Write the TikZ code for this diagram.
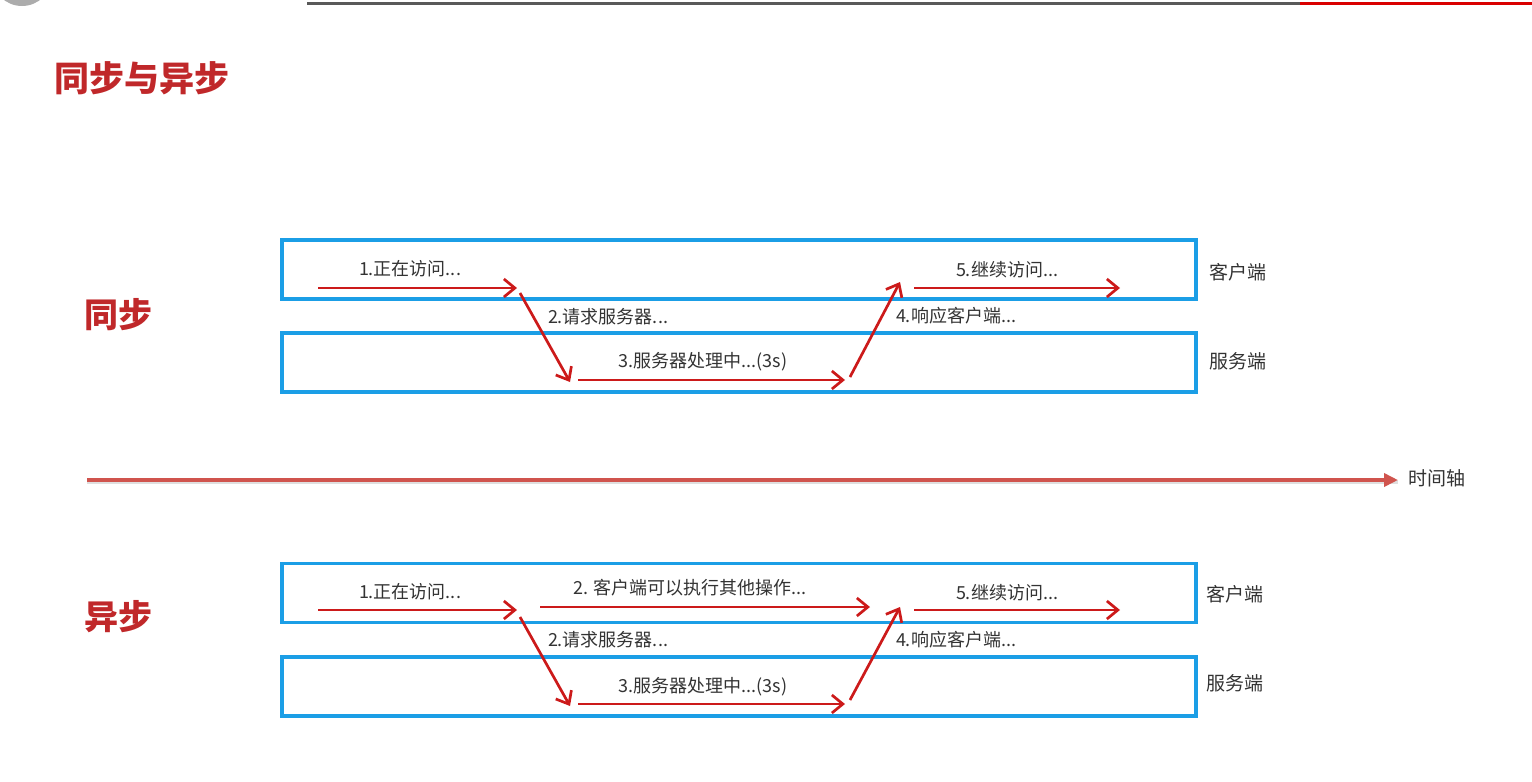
\documentclass[tikz,border=0pt]{standalone}
\usepackage{fontspec}
\setmainfont{Noto Sans CJK SC}
\usetikzlibrary{arrows.meta}

\definecolor{laneblue}{RGB}{27,158,230}
\definecolor{flowred}{RGB}{204,26,26}
\definecolor{titlered}{RGB}{192,40,42}
\definecolor{axisred}{RGB}{208,84,78}
\definecolor{txtgray}{RGB}{51,51,51}

\begin{document}
\begin{tikzpicture}[x=1pt,y=-1pt,
  lane/.style={draw=laneblue,line width=3.5pt,minimum width=914pt,minimum height=59pt,inner sep=0pt},
  flow/.style={draw=flowred,line width=2.7pt,-{Straight Barb[length=11pt,width=18pt]}},
  lbl/.style={text=txtgray,font=\fontsize{18}{21}\selectfont,inner sep=0pt},
  side/.style={text=txtgray,font=\fontsize{19}{22}\selectfont,inner sep=0pt},
  head/.style={text=titlered,font=\fontsize{34}{40}\selectfont\bfseries,inner sep=0pt}]

  \useasboundingbox (0,0) rectangle (1532,782);

  % top bar of the slide
  \fill[gray!65] (22,-24) circle (30pt);
  \draw[gray!70!black,line width=3pt] (307,3) -- (1300,3);
  \draw[red!85!black,line width=3pt] (1300,3) -- (1532,3);

  \node[head,font=\fontsize{35}{41}\selectfont\bfseries] (title) at (142,78) {同步与异步};

  % time axis
  \coordinate (t0) at (87,480);
  \coordinate (t1) at (1398,480);
  \draw[gray!25,line width=4pt] ([yshift=-2pt]t0) -- ([yshift=-2pt]t1);
  \draw[axisred,line width=4pt,-{Triangle[length=14pt,width=13pt]}] (t0) -- (t1);
  \node[side,anchor=west] (taxis) at (1408,478) {时间轴};

  % synchronous
  \node[head] (tsync) at (118,315) {同步};
  \node[lane] (cli1) at (739,269.5) {};
  \node[lane] (srv1) at (739,362.5) {};
  \node[side] (c1) at (1238,272) {客户端};
  \node[side] (s1) at (1238,361) {服务端};

  \coordinate (p1a) at (318,288);
  \coordinate (p1b) at (517,288);
  \coordinate (p2a) at (520,293);
  \coordinate (p2b) at (570,382);
  \coordinate (p3a) at (578,380);
  \coordinate (p3b) at (845,380);
  \coordinate (p4a) at (850,377);
  \coordinate (p4b) at (900,282);
  \coordinate (p5a) at (914,288);
  \coordinate (p5b) at (1120,288);

  \draw[flow] (p1a) -- (p1b);
  \draw[flow] (p2a) -- (p2b);
  \draw[flow] (p3a) -- (p3b);
  \draw[flow] (p4a) -- (p4b);
  \draw[flow] (p5a) -- (p5b);

  \node[lbl] (l1) at (410,269) {1.正在访问...};
  \node[lbl] (l2) at (608,317) {2.请求服务器...};
  \node[lbl] (l3) at (703,362) {3.服务器处理中...(3s)};
  \node[lbl] (l4) at (956,316) {4.响应客户端...};
  \node[lbl] (l5) at (1007,270) {5.继续访问...};

  % asynchronous
  \node[head] (tasync) at (118,617) {异步};
  \node[lane] (cli2) at (739,593) {};
  \node[lane] (srv2) at (739,686.5) {};
  \node[side] (c2) at (1235,594) {客户端};
  \node[side] (s2) at (1235,683) {服务端};

  \coordinate (q1a) at (318,610);
  \coordinate (q1b) at (517,610);
  \coordinate (qca) at (540,607);
  \coordinate (qcb) at (870,607);
  \coordinate (q2a) at (520,617);
  \coordinate (q2b) at (570,706);
  \coordinate (q3a) at (578,704);
  \coordinate (q3b) at (845,704);
  \coordinate (q4a) at (850,700);
  \coordinate (q4b) at (900,607);
  \coordinate (q5a) at (914,610);
  \coordinate (q5b) at (1120,610);

  \draw[flow] (q1a) -- (q1b);
  \draw[flow] (qca) -- (qcb);
  \draw[flow] (q2a) -- (q2b);
  \draw[flow] (q3a) -- (q3b);
  \draw[flow] (q4a) -- (q4b);
  \draw[flow] (q5a) -- (q5b);

  \node[lbl] (m1) at (410,592) {1.正在访问...};
  \node[lbl] (mc) at (690,588) {2. 客户端可以执行其他操作...};
  \node[lbl] (m2) at (608,640) {2.请求服务器...};
  \node[lbl] (m3) at (703,687) {3.服务器处理中...(3s)};
  \node[lbl] (m4) at (956,640) {4.响应客户端...};
  \node[lbl] (m5) at (1007,593) {5.继续访问...};

\end{tikzpicture}
\end{document}
